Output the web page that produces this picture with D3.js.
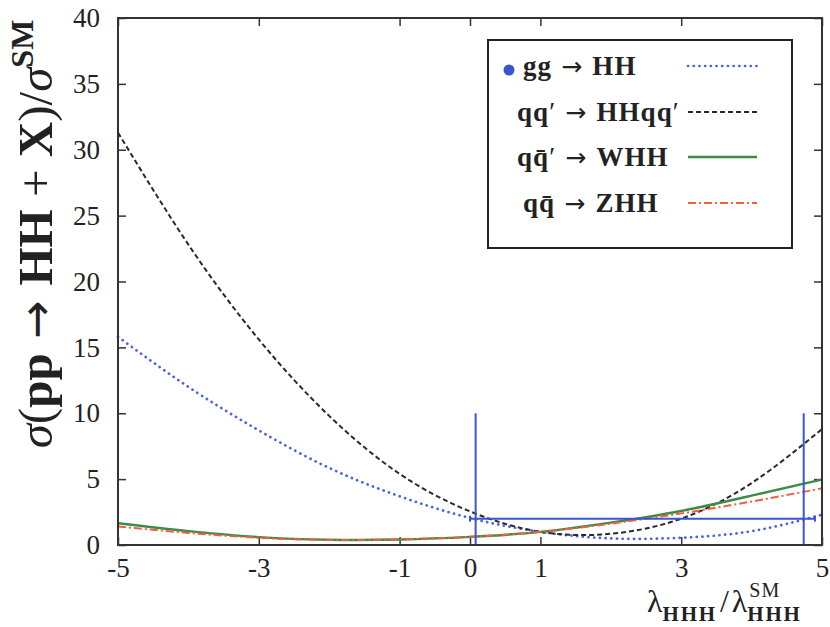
<!DOCTYPE html>
<html>
<head>
<meta charset="utf-8">
<script src="https://cdn.jsdelivr.net/npm/d3@7"></script>
<style>
  html, body { margin: 0; padding: 0; background: #fff; }
  svg { display: block; }
  text { font-family: "Liberation Serif", "DejaVu Serif", serif; fill: #222; }
</style>
</head>
<body>
<svg id="chart" width="830" height="627"></svg>
<script>
// ---- data ----
const lambdas = [-5, -4, -3, -2, -1, 0, 1, 2, 3, 4, 5];
const ggHH    = [15.8, 12.0, 8.7, 5.85, 3.7, 2.05, 1.0, 0.5, 0.55, 1.05, 2.3];
const qqHHqq  = [31.3, 22.8, 15.6, 9.8, 5.4, 2.55, 1.0, 0.85, 2.0, 4.7, 8.8];
const WHH     = [1.65, 1.05, 0.6, 0.4, 0.42, 0.62, 1.0, 1.7, 2.58, 3.75, 4.97];
const ZHH     = [1.4, 0.92, 0.55, 0.38, 0.42, 0.62, 1.0, 1.62, 2.4, 3.3, 4.3];
const xTickValues = [-5, -3, -1, 0, 1, 3, 5];
const yTickValues = [0, 5, 10, 15, 20, 25, 30, 35, 40];
// blue band markers: vertical lines (x, from y0 to y1) and a horizontal bar
const vMarkers = [{x: 0.08, y0: 0, y1: 10}, {x: 4.74, y0: 0, y1: 10}];
const hMarker = {x0: 0.0, x1: 4.9, y: 2.0};
const ARROW = "\u2192";
const legendLabels = [
  {parts: [["gg", "b"], [" " + ARROW + " ", "a"], ["HH", "b"]], dot: true},
  {parts: [["qq", "b"], ["\u2032", "n"], [" " + ARROW + " ", "a"], ["HHqq", "b"], ["\u2032", "n"]]},
  {parts: [["qq\u0304", "b"], ["\u2032", "n"], [" " + ARROW + " ", "a"], ["WHH", "b"]]},
  {parts: [["qq\u0304", "b"], [" " + ARROW + " ", "a"], ["ZHH", "b"]]}
];

const series = [
  {name: "gg", values: ggHH, color: "#4a63dc", width: 2.7, dash: "0.1,5.6", cap: "round"},
  {name: "qq", values: qqHHqq, color: "#2a2a2a", width: 2.0, dash: "5,3", cap: "butt"},
  {name: "W", values: WHH, color: "#3d8a48", width: 2.4, dash: null, cap: "butt"},
  {name: "Z", values: ZHH, color: "#f0603c", width: 2.0, dash: "8,3,2,3", cap: "butt"}
];

// ---- layout ----
const L = 118, R = 822, T = 18, B = 545;
const svg = d3.select("#chart");
const x = d3.scaleLinear().domain([-5, 5]).range([L, R]);
const y = d3.scaleLinear().domain([0, 40]).range([B, T]);

// axes (inward ticks on all four sides)
const tickLen = 8;
const gx = svg.append("g").attr("transform", `translate(0,${B})`)
  .call(d3.axisBottom(x).tickValues(xTickValues).tickSize(-tickLen).tickSizeOuter(0).tickPadding(13).tickFormat(d3.format("d")));
const gy = svg.append("g").attr("transform", `translate(${L},0)`)
  .call(d3.axisLeft(y).tickValues(yTickValues).tickSize(-tickLen).tickSizeOuter(0).tickPadding(18).tickFormat(d3.format("d")));
const gt = svg.append("g").attr("transform", `translate(0,${T})`)
  .call(d3.axisTop(x).tickValues(xTickValues).tickSize(-tickLen).tickSizeOuter(0).tickFormat(""));
const gr = svg.append("g").attr("transform", `translate(${R},0)`)
  .call(d3.axisRight(y).tickValues(yTickValues).tickSize(-tickLen).tickSizeOuter(0).tickFormat(""));
[gx, gy, gt, gr].forEach(g => {
  g.select(".domain").remove();
  g.selectAll(".tick line").attr("stroke", "#333").attr("stroke-width", 1.5);
  g.selectAll(".tick text").attr("font-family", "Liberation Serif, serif").attr("font-size", 27).attr("fill", "#222");
});
gx.selectAll(".tick text").text(d => d < 0 ? "-" + Math.abs(d) : d);

// curves
const line = d3.line().x((d, i) => x(lambdas[i])).y(d => y(d)).curve(d3.curveNatural);
series.forEach(s => {
  svg.append("path").datum(s.values)
    .attr("d", line).attr("fill", "none")
    .attr("stroke", s.color).attr("stroke-width", s.width)
    .attr("stroke-dasharray", s.dash).attr("stroke-linecap", s.cap);
});

// blue markers
const blue = "#3b55d0";
vMarkers.forEach(m => {
  svg.append("line").attr("x1", x(m.x)).attr("x2", x(m.x)).attr("y1", y(m.y0)).attr("y2", y(m.y1))
    .attr("stroke", blue).attr("stroke-width", 2);
});
svg.append("line").attr("x1", x(hMarker.x0)).attr("x2", x(hMarker.x1)).attr("y1", y(hMarker.y)).attr("y2", y(hMarker.y))
  .attr("stroke", blue).attr("stroke-width", 2);
[hMarker.x0, hMarker.x1].forEach(xv => {
  svg.append("line").attr("x1", x(xv)).attr("x2", x(xv)).attr("y1", y(hMarker.y) - 3).attr("y2", y(hMarker.y) + 3)
    .attr("stroke", blue).attr("stroke-width", 2);
});

// frame
svg.append("rect").attr("x", L).attr("y", T).attr("width", R - L).attr("height", B - T)
  .attr("fill", "none").attr("stroke", "#333").attr("stroke-width", 2);

// legend
const lg = svg.append("g");
lg.append("rect").attr("x", 488).attr("y", 40).attr("width", 304).attr("height", 208)
  .attr("fill", "#fff").attr("stroke", "#222").attr("stroke-width", 2);
const rowBase = [75, 121, 166, 212];
const rowStart = [523, 517, 517, 523];
legendLabels.forEach((lab, i) => {
  const t = lg.append("text").attr("x", rowStart[i]).attr("y", rowBase[i]).attr("font-size", 27)
    .attr("letter-spacing", 1.1);
  lab.parts.forEach(p => {
    const ts = t.append("tspan").text(p[0]);
    if (p[1] === "b") ts.attr("font-weight", "bold");
    if (p[1] === "a") ts.attr("font-family", "DejaVu Sans, sans-serif").attr("font-size", 25);
  });
  if (lab.dot) lg.append("circle").attr("cx", 509).attr("cy", 70).attr("r", 5.5).attr("fill", "#3b55d0");
  const s = series[i];
  const ly = rowBase[i] - 9;
  lg.append("line").attr("x1", 688).attr("x2", 757).attr("y1", ly).attr("y2", ly)
    .attr("stroke", s.color).attr("stroke-width", s.width)
    .attr("stroke-dasharray", s.dash).attr("stroke-linecap", s.cap);
});

// y axis label
const yl = svg.append("text").attr("transform", "translate(52,234) rotate(-90)")
  .attr("text-anchor", "middle").attr("font-size", 49);
yl.append("tspan").text("\u03c3").attr("font-style", "italic");
yl.append("tspan").text("(");
yl.append("tspan").text("pp").attr("font-weight", "bold");
yl.append("tspan").text(" " + ARROW + " ").attr("font-family", "DejaVu Sans, sans-serif").attr("font-size", 46);
yl.append("tspan").text("HH").attr("font-weight", "bold");
yl.append("tspan").text(" + ");
yl.append("tspan").text("X").attr("font-weight", "bold");
yl.append("tspan").text(")/");
yl.append("tspan").text("\u03c3").attr("font-style", "italic");
yl.append("tspan").text("SM").attr("font-weight", "bold").attr("font-size", 32).attr("dy", -19);

// x axis label (built from measured pieces)
const xl = svg.append("g");
function piece(txt, size, bold, yy, px, ls) {
  const t = xl.append("text").attr("x", px).attr("y", yy).attr("font-size", size)
    .attr("font-weight", bold ? "bold" : "normal").attr("letter-spacing", ls || 0).text(txt);
  return t.node().getComputedTextLength();
}
const lamBase = 612, subBase = 621, supBase = 597;
let cx = 647;
cx += piece("\u03bb", 32, false, lamBase, cx);
cx += piece("HHH", 21, true, subBase, cx, 1.8) + 3;
cx += piece("/", 32, false, lamBase, cx) + 3;
cx += piece("\u03bb", 32, false, lamBase, cx);
piece("SM", 20, false, supBase, cx + 2, 1);
piece("HHH", 21, true, subBase, cx, 1.8);
</script>
</body>
</html>
